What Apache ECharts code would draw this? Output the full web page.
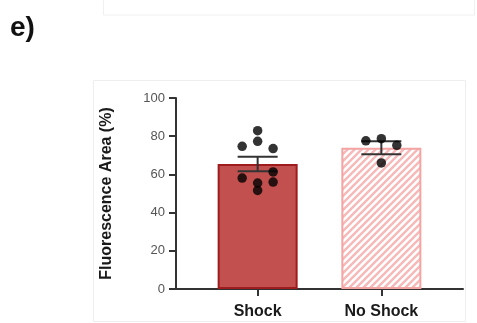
<!DOCTYPE html>
<html><head><meta charset="utf-8">
<script src="https://cdn.jsdelivr.net/npm/echarts@6/dist/echarts.min.js"></script>
<style>html,body{margin:0;padding:0;background:#fff}#c{width:477px;height:323px}</style>
</head><body><div id="c"></div>
<script>
// Group summary: mean ± SEM of fluorescence area
const categories = ['Shock', 'No Shock'];
const groupMeans = [65.5, 74.0];
const groupSEM = [3.8, 3.4];
// Individual animals
const shockPoints = [82.9, 77.3, 74.7, 73.5, 61.3, 58.1, 56.0, 55.5, 51.6];
const noShockPoints = [77.6, 78.7, 75.2, 66.0];
const yTicks = [0, 20, 40, 60, 80, 100];
// Column of each dot inside its bar (-1 left, 0 centre, 1 right)
const shockSpread = [0, 0, -1, 1, 1, -1, 1, 0, 0];
const noShockSpread = [-1, 0, 1, 0];
const SPREAD_STEP = 0.125;

// Diagonal hatch used for the No Shock bar
function hatch() {
  const s = 7, cv = document.createElement('canvas');
  cv.width = s; cv.height = s;
  const g = cv.getContext('2d');
  g.fillStyle = '#ffffff'; g.fillRect(0, 0, s, s);
  g.strokeStyle = '#f7b9b9'; g.lineWidth = 2.4;
  g.beginPath();
  g.moveTo(-1, s + 1); g.lineTo(s + 1, -1);
  g.moveTo(-1, 1); g.lineTo(1, -1);
  g.moveTo(s - 1, s + 1); g.lineTo(s + 1, s - 1);
  g.stroke();
  return cv;
}

const barStyles = [
  { color: '#c1504f', borderColor: '#9e1b1e', borderWidth: 2 },
  { color: { image: hatch(), repeat: 'repeat' }, borderColor: '#f4a3a3', borderWidth: 2 }
];

const dots = [];
shockPoints.forEach((v, i) => dots.push([0 + shockSpread[i] * SPREAD_STEP, v]));
noShockPoints.forEach((v, i) => dots.push([1 + noShockSpread[i] * SPREAD_STEP, v]));

const FONT = '"Liberation Sans", Arial, sans-serif';
const chart = echarts.init(document.getElementById('c'), null, { renderer: 'canvas' });
chart.setOption({
  animation: false,
  backgroundColor: '#ffffff',
  graphic: [
    { type: 'rect', shape: { x: 103.5, y: -6, width: 371, height: 21 }, style: { fill: 'none', stroke: '#f0f0f0', lineWidth: 1 }, silent: true },
    { type: 'rect', shape: { x: 93.5, y: 80.5, width: 372, height: 241 }, style: { fill: 'none', stroke: '#eeeeee', lineWidth: 1 }, silent: true },
    { type: 'text', left: 10, top: 14, style: { text: 'e)', font: 'bold 28px ' + FONT, fill: '#111' } }
  ],
  grid: { left: 176, right: 14, top: 98, bottom: 34, containLabel: false },
  xAxis: {
    type: 'value', min: -0.66, max: 1.66,
    splitLine: { show: false },
    axisLine: { show: true, onZero: false, lineStyle: { color: '#333', width: 2 } },
    axisTick: { show: true, customValues: [0, 1], length: 7, lineStyle: { color: '#333', width: 2 } },
    axisLabel: {
      customValues: [0, 1], margin: 15,
      formatter: v => categories[Math.round(v)] || '',
      fontFamily: FONT, fontWeight: 'bold', fontSize: 16, color: '#1a1a1a'
    }
  },
  yAxis: {
    type: 'value', min: yTicks[0], max: yTicks[yTicks.length - 1], interval: 20,
    name: 'Fluorescence Area (%)', nameLocation: 'middle', nameRotate: 90, nameGap: 61,
    nameTextStyle: { fontFamily: FONT, fontWeight: 'bold', fontSize: 16, color: '#1a1a1a' },
    splitLine: { show: false },
    axisLine: { show: true, onZero: false, lineStyle: { color: '#333', width: 2 } },
    axisTick: { show: true, length: 7, lineStyle: { color: '#333', width: 2 } },
    axisLabel: { margin: 11, fontFamily: FONT, fontSize: 13, color: '#555' }
  },
  series: [
    {
      type: 'bar', barWidth: 80, z: 2,
      data: groupMeans.map((m, i) => ({ value: [i, m], itemStyle: barStyles[i] }))
    },
    {
      type: 'custom', z: 3,
      data: groupMeans.map((m, i) => [i, m, groupSEM[i]]),
      renderItem: (params, api) => {
        const x = api.value(0), m = api.value(1), e = api.value(2);
        const top = api.coord([x, m + e]), bot = api.coord([x, m - e]);
        const half = 20;
        const st = { stroke: '#333', lineWidth: 2 };
        return {
          type: 'group', children: [
            { type: 'line', shape: { x1: top[0], y1: top[1], x2: bot[0], y2: bot[1] }, style: st },
            { type: 'line', shape: { x1: top[0] - half, y1: top[1], x2: top[0] + half, y2: top[1] }, style: st },
            { type: 'line', shape: { x1: bot[0] - half, y1: bot[1], x2: bot[0] + half, y2: bot[1] }, style: st }
          ]
        };
      }
    },
    {
      type: 'scatter', z: 4, symbol: 'circle', symbolSize: 9.5,
      itemStyle: { color: '#000' },
      data: dots
    }
  ]
});
</script>
</body></html>
